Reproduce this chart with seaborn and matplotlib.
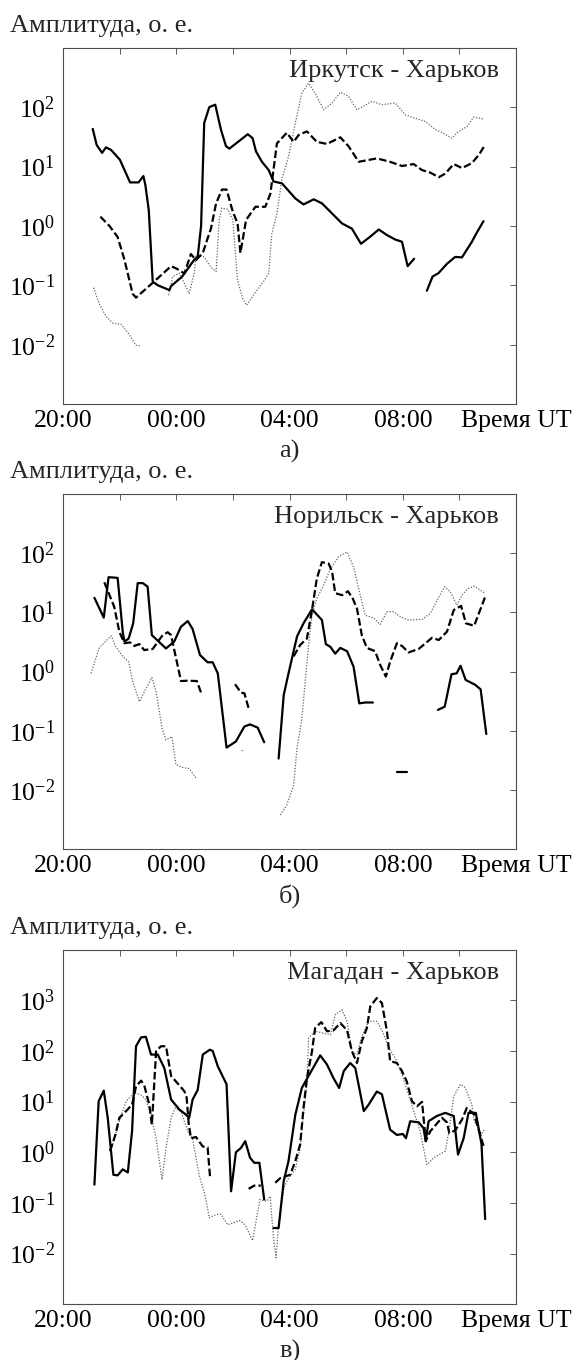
import pandas as pd
import matplotlib
matplotlib.use('Agg')
import matplotlib.pyplot as plt
import seaborn as sns
from matplotlib.ticker import LogLocator, NullFormatter

# Hours are counted from 20:00 UT, amplitudes in relative units (о. е.)

# ---------------- а) Иркутск - Харьков ----------------
irk_solid_t = [[1.04, 1.18, 1.37, 1.51, 1.69, 2.0, 2.36, 2.66, 2.83, 2.9, 3.02, 3.16, 3.34, 3.75, 3.81, 4.2,
                4.63, 4.75, 4.87, 4.98, 5.16, 5.37, 5.57, 5.75, 5.87, 6.52, 6.69, 6.81, 7.02, 7.26, 7.43, 7.73,
                8.2, 8.49, 8.85, 9.14, 9.85, 10.2, 10.52, 10.85, 11.15, 11.44, 11.73, 11.97, 12.17, 12.4],
               [12.85, 13.05, 13.26, 13.56, 13.85, 14.09, 14.44, 14.6, 14.85]]
irk_solid_a = [[43, 23, 17, 21, 19, 13, 5.4, 5.4, 6.9, 4.9, 1.85, 0.115, 0.10, 0.083, 0.097, 0.14,
                0.27, 0.3, 1.0, 54, 100, 110, 42, 22, 20, 35, 30, 18, 12, 8.7, 5.6, 5.2,
                2.9, 2.3, 2.8, 2.4, 1.1, 0.9, 0.5, 0.66, 0.87, 0.70, 0.59, 0.54, 0.21, 0.28],
               [0.081, 0.14, 0.16, 0.23, 0.30, 0.295, 0.54, 0.75, 1.2]]
irk_dash_t = [[1.31, 1.63, 1.92, 2.16, 2.45, 2.57, 3.16, 3.81, 4.01, 4.28, 4.51, 4.69, 4.93, 5.22, 5.4, 5.61,
               5.77, 5.99, 6.16, 6.26, 6.46, 6.79, 7.14, 7.32, 7.55, 7.9, 8.14, 8.32, 8.61, 8.96, 9.32, 9.79,
               10.08, 10.44, 10.79, 11.08, 11.55, 11.97, 12.38, 12.68, 12.97, 13.27, 13.5, 13.8, 14.09, 14.44,
               14.7, 14.9]]
irk_dash_a = [[1.43, 1.0, 0.65, 0.27, 0.072, 0.062, 0.11, 0.21, 0.19, 0.158, 0.336, 0.265, 0.35, 0.91, 2.4, 4.1,
               4.1, 1.74, 1.1, 0.35, 1.26, 2.1, 2.1, 3.5, 24.5, 37, 26, 34, 39, 26, 24, 31,
               22, 12, 12.9, 13.7, 12, 10.2, 11, 8.7, 7.9, 6.6, 7.6, 11, 9.4, 11.4,
               16, 23]]
irk_dot_t = [[1.07, 1.27, 1.51, 1.75, 2.04, 2.28, 2.57, 2.75],
             [3.72, 3.87, 4.1, 4.28, 4.45, 4.63, 4.69, 4.98, 5.22, 5.4, 5.51, 5.6, 5.81, 5.99, 6.16, 6.34,
              6.48, 6.75, 7.1, 7.26, 7.37, 7.55, 7.73, 7.96, 8.2, 8.43, 8.67, 8.96, 9.2, 9.5, 9.79, 10.08,
              10.38, 10.91, 11.26, 11.73, 12.09, 12.44, 12.8, 13.15, 13.44, 13.73, 13.97, 14.27, 14.5, 14.85]]
irk_dot_a = [[0.091, 0.049, 0.030, 0.023, 0.022, 0.016, 0.0098, 0.0095],
             [0.068, 0.14, 0.16, 0.107, 0.073, 0.16, 0.32, 0.30, 0.20, 0.17, 1.26, 2.0, 1.9, 1.26, 0.12, 0.06,
              0.046, 0.072, 0.12, 0.16, 0.74, 1.6, 6.3, 14.7, 54, 172, 254, 152, 90, 117, 178, 152,
              90, 125, 110, 117, 74, 65, 57, 42, 36, 30, 39, 47, 68, 63]]

# ---------------- б) Норильск - Харьков ----------------
nor_solid_t = [[1.10, 1.43, 1.60, 1.92, 2.10, 2.16, 2.31, 2.47, 2.63, 2.81, 2.98, 3.13, 3.63, 3.92, 4.16, 4.4,
                4.57, 4.83, 5.1, 5.28, 5.46, 5.77, 6.1, 6.4, 6.6, 6.87, 7.1],
               [7.61, 7.79, 7.96, 8.26, 8.49, 8.79, 8.93, 9.14, 9.28, 9.44, 9.61, 9.79, 10.03, 10.26, 10.46,
                10.67, 10.94],
               [11.79, 12.14],
               [13.24, 13.48, 13.72, 13.9, 14.04, 14.22, 14.55, 14.75, 14.95]]
nor_solid_a = [[17.5, 8.1, 39, 38, 4.7, 3.2, 3.6, 6.5, 31, 31, 27, 4.1, 2.45, 3.2, 5.7, 7.1,
                5.2, 1.9, 1.43, 1.43, 0.93, 0.052, 0.066, 0.118, 0.128, 0.113, 0.064],
               [0.034, 0.40, 0.93, 3.9, 6.5, 11.2, 9.5, 7.4, 2.9, 2.6, 2.0, 2.5, 2.2, 1.2, 0.29,
                0.30, 0.30],
               [0.02, 0.02],
               [0.225, 0.255, 0.9, 0.93, 1.25, 0.72, 0.6, 0.5, 0.088]]
nor_dash_t = [[1.45, 1.80, 1.98, 2.16, 2.36, 2.51, 2.69, 2.86, 3.16, 3.51, 3.69, 3.81, 3.96, 4.16, 4.4, 4.72, 4.9],
              [6.07, 6.28, 6.4, 6.55],
              [8.14, 8.37, 8.61, 8.79, 8.96, 9.14, 9.38, 9.5, 9.61, 9.85, 10.06, 10.23, 10.38, 10.55, 10.73,
               11.02, 11.2, 11.4, 11.55, 11.79, 11.97, 12.2, 12.56, 13.03, 13.27, 13.56, 13.8, 14.06, 14.23,
               14.52, 14.9]]
nor_dash_a = [[32, 12.3, 4.7, 3.0, 3.1, 2.7, 2.9, 2.3, 2.4, 4.1, 4.6, 4.1, 1.9, 0.69, 0.7, 0.69, 0.40],
              [0.61, 0.44, 0.43, 0.24],
              [1.8, 2.8, 3.6, 10.9, 37, 70, 66, 48, 21, 19.4, 22.6, 17, 11.5, 4.1, 2.5,
               2.2, 1.29, 0.82, 1.46, 3.0, 2.7, 2.1, 2.4, 3.7, 3.4, 4.7, 10.9, 12.8, 6.5,
               5.9, 17.7]]
nor_dot_t = [[0.98, 1.27, 1.69, 1.86, 2.10, 2.31, 2.45, 2.69, 2.90, 3.13, 3.28, 3.49, 3.63, 3.84, 3.98, 4.22,
              4.45, 4.69],
             [6.28, 6.4],
             [7.67, 7.9, 8.14, 8.26, 8.43, 8.55, 8.67, 8.79, 8.96, 9.2, 9.44, 9.73, 10.03, 10.26, 10.44, 10.67,
              10.97, 11.2, 11.44, 11.67, 11.91, 12.2, 12.68, 12.97, 13.27, 13.48, 13.68, 13.91, 14.09, 14.3,
              14.52, 14.9]]
nor_dot_a = [[0.93, 2.5, 4.0, 2.6, 1.8, 1.46, 0.68, 0.31, 0.49, 0.79, 0.46, 0.11, 0.070, 0.080, 0.027, 0.024,
              0.023, 0.016],
             [0.048, 0.048],
             [0.0038, 0.0056, 0.012, 0.051, 0.16, 0.67, 2.8, 8.9, 17, 28.5, 54, 86, 104, 58, 25, 8.9,
              8.0, 6.2, 10.2, 10.2, 8.4, 7.4, 7.6, 9.5, 18, 27, 22, 13.2, 19.4, 25,
              27.5, 21]]

# ---------------- в) Магадан - Харьков ----------------
mag_solid_t = [[1.10, 1.25, 1.43, 1.57, 1.77, 1.92, 2.10, 2.28, 2.43, 2.57, 2.75, 2.92, 3.10, 3.34, 3.57, 3.81,
                4.1, 4.34, 4.45, 4.57, 4.75, 4.93, 5.18, 5.28, 5.46, 5.77, 5.93, 6.1, 6.28, 6.43, 6.6, 6.75,
                6.93, 7.1],
               [7.43, 7.61, 7.79, 7.96, 8.2, 8.43, 8.73, 9.08, 9.32, 9.55, 9.75, 9.91, 10.14, 10.32, 10.62,
                10.79, 11.08, 11.26, 11.55, 11.79, 12.0, 12.11, 12.26, 12.56, 12.73, 12.81, 12.91, 13.2, 13.5,
                13.8, 13.95, 14.15, 14.32, 14.58, 14.78, 14.91]]
mag_solid_a = [[0.23, 10.2, 16.5, 4.8, 0.36, 0.35, 0.46, 0.4, 2.6, 124, 186, 190, 85, 85, 46, 11,
                7, 5.5, 4.8, 11, 17, 85, 106, 100, 50, 22, 0.17, 1.0, 1.22, 1.66, 0.78, 0.62,
                0.62, 0.117],
               [0.032, 0.032, 0.27, 0.67, 5.5, 18.6, 37, 82, 54, 29, 18.6, 40, 58, 46, 6.5,
                8.7, 15.8, 14, 2.8, 2.2, 2.3, 1.9, 4.1, 3.9, 3.0, 1.66, 4.1, 5.2, 6.0,
                5.2, 0.9, 1.9, 6.0, 6.0, 1.45, 0.048]]
mag_dash_t = [[1.65, 1.84, 1.98, 2.16, 2.43, 2.57, 2.75, 2.86, 3.04, 3.13, 3.28, 3.45, 3.63, 3.81, 4.04, 4.28,
               4.36, 4.43, 4.51, 4.69, 4.93, 5.1, 5.19],
              [6.55, 6.75, 6.98],
              [7.49, 7.67, 8.02, 8.2, 8.37, 8.49, 8.61, 8.79, 8.9, 9.12, 9.32, 9.55, 9.79, 10.03, 10.2, 10.38,
               10.55, 10.73, 10.85, 11.08, 11.26, 11.44, 11.55, 11.79, 11.97, 12.14, 12.32, 12.5, 12.68, 12.81,
               12.97, 13.38, 13.56, 13.64, 13.85, 14.09, 14.26, 14.52, 14.85]]
mag_dash_a = [[1.05, 2.2, 4.8, 6.0, 8.7, 20, 26, 21, 8.7, 3.5, 99, 124, 124, 32, 23, 16,
               12, 3.8, 1.9, 2.0, 1.3, 1.25, 0.31],
              [0.19, 0.22, 0.22],
              [0.25, 0.31, 0.36, 0.67, 1.42, 7.5, 29, 99, 284, 372, 245, 255, 357, 255, 99, 58,
               155, 284, 760, 1110, 885, 245, 63, 58, 40, 25, 10.2, 8.1, 9.9, 1.66,
               2.6, 4.8, 3.9, 2.4, 2.7, 4.4, 7.5, 5.6, 1.34]]
mag_dot_t = [[1.69, 1.98, 2.22, 2.51, 2.75, 2.92, 3.10, 3.28, 3.49, 3.63, 3.81, 3.96, 4.16, 4.40, 4.57, 4.81,
              5.0, 5.16, 5.4, 5.57, 5.81, 6.22, 6.43, 6.69, 6.95, 7.1, 7.2, 7.31, 7.43, 7.52, 7.61, 7.8,
              7.96, 8.2, 8.37, 8.49, 8.61, 8.67, 8.9, 9.2, 9.44, 9.61, 9.85, 10.03, 10.2, 10.38, 10.55, 10.79,
              11.08, 11.28, 11.5, 11.73, 11.97, 12.2, 12.44, 12.61, 12.73, 12.85, 13.09, 13.5, 13.64, 13.8,
              14.04, 14.2, 14.44, 14.52, 14.78, 14.91]]
mag_dot_a = [[1.13, 4.1, 10.2, 14.9, 13.5, 11, 5.5, 1.9, 0.29, 1.2, 4.8, 7.5, 6.3, 2.6, 1.8, 0.34,
              0.15, 0.051, 0.059, 0.06, 0.037, 0.045, 0.037, 0.018, 0.117, 0.11, 0.109, 0.136, 0.020, 0.0083, 0.037, 0.2,
              0.31, 0.46, 1.22, 5.5, 22, 180, 245, 225, 210, 520, 650, 385, 99, 85, 195, 385,
              385, 245, 115, 73, 34, 13.8, 5.2, 2.6, 1.22, 0.57, 0.78, 1.05, 2.8, 12.8,
              22, 19, 8.7, 4.2, 2.3, 2.9]]

# Axis labels
x_ticks = [0, 2, 4, 6, 8, 10, 12, 14, 16]
x_labels = ['20:00', '', '00:00', '', '04:00', '', '08:00', '', 'Время UT']
y_ticks_6 = [1e-3, 1e-2, 1e-1, 1e0, 1e1, 1e2, 1e3]
y_labels_6 = ['', r'$10^{-2}$', r'$10^{-1}$', r'$10^{0}$', r'$10^{1}$', r'$10^{2}$', '']
y_ticks_7 = [1e-3, 1e-2, 1e-1, 1e0, 1e1, 1e2, 1e3, 1e4]
y_labels_7 = ['', r'$10^{-2}$', r'$10^{-1}$', r'$10^{0}$', r'$10^{1}$', r'$10^{2}$', r'$10^{3}$', '']


def to_frame(t_segs, a_segs):
    parts = [pd.DataFrame({'t': t, 'amp': a, 'seg': k}) for k, (t, a) in enumerate(zip(t_segs, a_segs))]
    return pd.concat(parts, ignore_index=True)


panels = [
    dict(title='Иркутск - Харьков', label='а)', pos=[0.1097, 0.7029, 0.7846, 0.2620],
         ylim=(1e-3, 1e3), yticks=y_ticks_6, ylabels=y_labels_6,
         solid=(irk_solid_t, irk_solid_a), dash=(irk_dash_t, irk_dash_a), dot=(irk_dot_t, irk_dot_a)),
    dict(title='Норильск - Харьков', label='б)', pos=[0.1097, 0.3755, 0.7846, 0.2615],
         ylim=(1e-3, 1e3), yticks=y_ticks_6, ylabels=y_labels_6,
         solid=(nor_solid_t, nor_solid_a), dash=(nor_dash_t, nor_dash_a), dot=(nor_dot_t, nor_dot_a)),
    dict(title='Магадан - Харьков', label='в)', pos=[0.1097, 0.0410, 0.7846, 0.2607],
         ylim=(1e-3, 1e4), yticks=y_ticks_7, ylabels=y_labels_7,
         solid=(mag_solid_t, mag_solid_a), dash=(mag_dash_t, mag_dash_a), dot=(mag_dot_t, mag_dot_a)),
]

sns.set_style('white')
plt.rcParams['font.family'] = ['Liberation Serif', 'DejaVu Serif']
plt.rcParams['mathtext.fontset'] = 'custom'
plt.rcParams['mathtext.rm'] = 'Liberation Serif'
plt.rcParams['mathtext.it'] = 'Liberation Serif:italic'
plt.rcParams['mathtext.bf'] = 'Liberation Serif:bold'

fig = plt.figure(figsize=(5.77, 13.6), dpi=100)

line_styles = {
    'dot': dict(color='0.4', lw=0.9, ls=(0, (1, 1.3))),
    'dash': dict(color='black', lw=1.6, ls=(0, (3.4, 1.4))),
    'solid': dict(color='black', lw=1.6, ls='-'),
}

for p in panels:
    ax = fig.add_axes(p['pos'])
    ax.set_yscale('log')

    for kind in ['dot', 'dash', 'solid']:
        df = to_frame(*p[kind])
        sns.lineplot(data=df, x='t', y='amp', units='seg', estimator=None,
                     legend=False, ax=ax, **line_styles[kind])

    ax.set_xlim(0, 16)
    ax.set_ylim(*p['ylim'])
    ax.set_xticks(x_ticks, labels=x_labels)
    ax.set_yticks(p['yticks'], labels=p['ylabels'])
    ax.yaxis.set_minor_locator(LogLocator(base=10, subs=range(2, 10), numticks=20))
    ax.yaxis.set_minor_formatter(NullFormatter())
    ax.set_xlabel('')
    ax.set_ylabel('')

    ax.tick_params(which='both', direction='in', top=True, right=True, width=0.6, colors='0.25',
                   labelcolor='black', labelsize=18.5)
    ax.tick_params(axis='x', which='major', length=4, pad=4)
    ax.tick_params(axis='y', which='major', length=4, pad=6)
    ax.tick_params(which='minor', length=2)
    ax.tick_params(axis='y', which='minor', right=False)
    for s in ax.spines.values():
        s.set_linewidth(0.8)
        s.set_color('0.3')

    ax.text(-0.118, 1.045, 'Амплитуда, о. е.', transform=ax.transAxes,
            fontsize=19, ha='left', va='baseline')
    ax.text(0.962, 0.918, p['title'], transform=ax.transAxes,
            fontsize=19, ha='right', va='baseline')
    ax.text(0.5, -0.132, p['label'], transform=ax.transAxes,
            fontsize=19, ha='center', va='center')

fig.savefig('out.png', dpi=100)
